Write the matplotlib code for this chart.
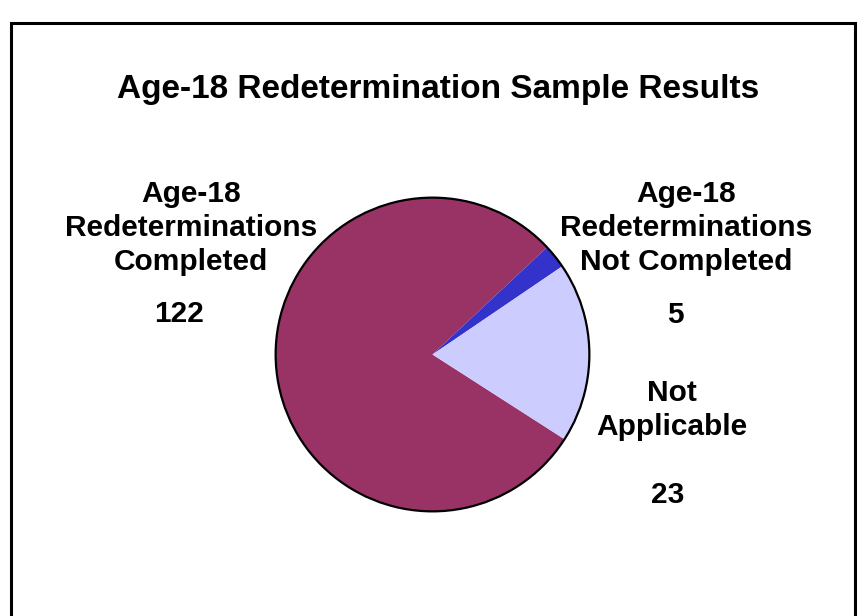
import matplotlib.pyplot as plt
from matplotlib.patches import Rectangle, Circle

plt.rcParams["font.family"] = ["Liberation Sans", "DejaVu Sans"]

title = "Age-18 Redetermination Sample Results"
categories = ["Age-18\nRedeterminations\nCompleted",
              "Age-18\nRedeterminations\nNot Completed",
              "Not\nApplicable"]
counts = [122, 5, 23]
# slice sizes as drawn in the original (degrees), they don't follow the counts exactly
slice_deg = [284.2, 8.9, 66.9]
colors = ["#993366", "#3333CC", "#CCCCFF"]

W, H = 865, 616
fig = plt.figure(figsize=(W / 100, H / 100), dpi=100)

# frame around the chart area (runs off the bottom of the picture)
fig.patches.append(Rectangle((11 / W, -0.05), (855 - 11) / W, 1.05 - 23 / H,
                             transform=fig.transFigure, fill=False,
                             edgecolor="black", linewidth=2.2))

cx, cy, r = 432.5, 354.5, 160
ax = fig.add_axes([(cx - r) / W, (H - cy - r) / H, 2 * r / W, 2 * r / H])
wedges, _ = ax.pie(slice_deg, colors=colors, startangle=-32.7, counterclock=False,
                   radius=1, wedgeprops=dict(linewidth=0))
ax.add_patch(Circle((0, 0), 1, fill=False, edgecolor="black", linewidth=1.6))
ax.set_xlim(-1.02, 1.02)
ax.set_ylim(-1.02, 1.02)
ax.set_aspect("equal")
ax.axis("off")

fig.text(438 / W, 1 - 98 / H, title, ha="center", va="baseline",
         fontsize=24, fontweight="bold")

lab = dict(ha="center", va="baseline", fontsize=21.5, fontweight="bold",
           linespacing=1.275, multialignment="center")
# last-line baselines in pixels
label_pos = [(191, 270), (686, 270), (672, 435)]
value_pos = [(179, 322), (675, 323), (668, 503)]
for name, n, (lx, ly), (vx, vy) in zip(categories, counts, label_pos, value_pos):
    fig.text(lx / W, 1 - ly / H, name, **lab)
    fig.text(vx / W, 1 - vy / H, str(n), **lab)

fig.savefig("out.png", dpi=100)
